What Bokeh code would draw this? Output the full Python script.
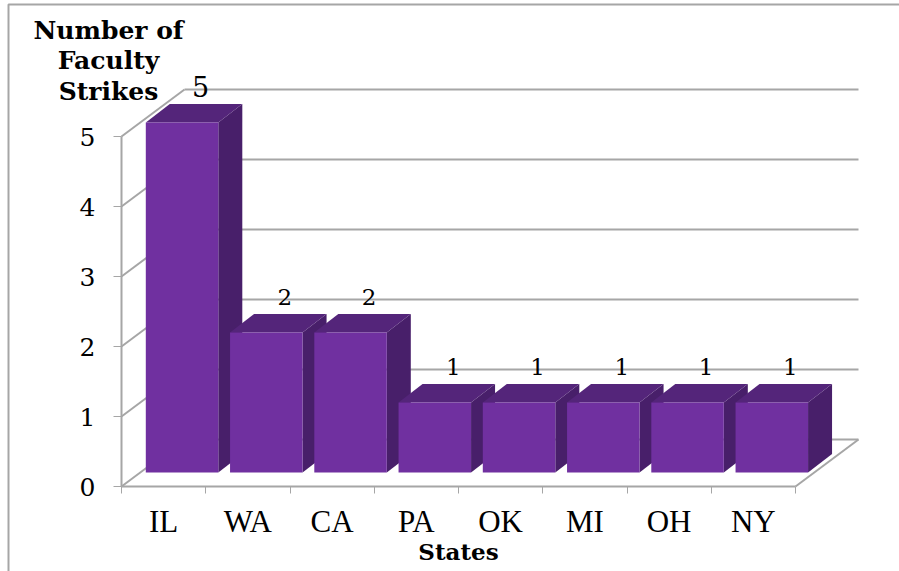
from bokeh.plotting import figure
from bokeh.models import ColumnDataSource, FixedTicker, Range1d, Label, BoxAnnotation, LinearAxis
from bokeh.core.properties import value
from bokeh.embed import file_html
from bokeh.resources import INLINE

# ---- data ----
states = ["IL", "WA", "CA", "PA", "OK", "MI", "OH", "NY"]
strikes = [5, 2, 2, 1, 1, 1, 1, 1]
y_ticks = [0, 1, 2, 3, 4, 5]

# ---- look ----
W, H = 899, 571
X0_PX, Y0_PX = 121, 486           # pixel position of the chart origin
UX, UY = 84.25, 70.0              # pixels per category / per strike
WALL_DX, WALL_DY = 63 / UX, 47 / UY
BAR_X0, BAR_W = 24.3 / UX, 72.5 / UX
BAR_Y0 = 14 / UY
FRONT_TO_BACK_DX, FRONT_TO_BACK_DY = 24 / UX, 18.5 / UY
GRID = "#a6a6a6"
FRONT, TOP, SIDE = "#7030a0", "#54257a", "#481f6a"
SERIF = "Liberation Serif"
DIGITS = "DejaVu Serif"

p = figure(frame_width=W, frame_height=H, output_backend="svg", toolbar_location=None,
           x_range=Range1d(-X0_PX / UX, (W - X0_PX) / UX),
           y_range=Range1d(-(H - Y0_PX) / UY, Y0_PX / UY),
           min_border=0, x_axis_type=None, y_axis_type=None, outline_line_color=None)
p.grid.visible = False

n = len(states)
# back-wall grid lines and side-wall diagonals
p.segment(x0=[WALL_DX] * len(y_ticks), x1=[n + WALL_DX] * len(y_ticks),
          y0=[t + WALL_DY for t in y_ticks], y1=[t + WALL_DY for t in y_ticks],
          line_color=GRID, line_width=2)
p.segment(x0=[0] * len(y_ticks), x1=[WALL_DX] * len(y_ticks),
          y0=y_ticks, y1=[t + WALL_DY for t in y_ticks], line_color=GRID, line_width=2)
p.segment(x0=[n], x1=[n + WALL_DX], y0=[0], y1=[WALL_DY], line_color=GRID, line_width=2)

# 3-D bars, drawn left to right so that later ones overlap earlier ones
for i, v in enumerate(strikes):
    xl = i + BAR_X0
    xr = xl + BAR_W
    yb, yt = BAR_Y0, BAR_Y0 + v
    dx, dy = FRONT_TO_BACK_DX, FRONT_TO_BACK_DY
    p.patch([xr, xr + dx, xr + dx, xr], [yb, yb + dy, yt + dy, yt], fill_color=SIDE, line_color=None)
    p.patch([xl, xl + dx, xr + dx, xr], [yt, yt + dy, yt + dy, yt], fill_color=TOP, line_color=None)
    p.quad(left=xl, right=xr, bottom=yb, top=yt, fill_color=FRONT, line_color=None)

# value labels
src = ColumnDataSource(dict(x=[i + 0.5 for i in range(n)], y=strikes, t=[str(v) for v in strikes],
                            s=["27px" if v > 2 else "23px" for v in strikes]))
p.text("x", "y", text="t", source=src, x_offset=37, y_offset=-50, text_align="center",
       text_baseline="middle", text_font=value(DIGITS), text_font_size="s", text_color="#000000")

# axes
ax = LinearAxis(fixed_location=0, bounds=(0, n),
                ticker=FixedTicker(ticks=[i + 0.5 for i in range(n)], minor_ticks=list(range(n + 1))),
                major_label_overrides={i + 0.5: s for i, s in enumerate(states)},
                major_label_text_font=SERIF, major_label_text_font_size="31px",
                major_label_text_color="#000000", major_label_standoff=10,
                axis_line_color=GRID, axis_line_width=2,
                major_tick_in=0, major_tick_out=0, minor_tick_in=0, minor_tick_out=7,
                minor_tick_line_color=GRID, minor_tick_line_width=1)
p.add_layout(ax, "below")

ay = LinearAxis(fixed_location=0, bounds=(0, 5), ticker=FixedTicker(ticks=y_ticks),
                major_label_text_font=DIGITS, major_label_text_font_size="25px",
                major_label_text_color="#000000", major_label_standoff=18,
                axis_line_color=GRID, axis_line_width=2,
                major_tick_in=0, major_tick_out=8, major_tick_line_color=GRID, major_tick_line_width=1,
                minor_tick_in=0, minor_tick_out=0)
p.add_layout(ay, "left")

# axis titles
p.add_layout(Label(x=108, y=15, x_units="canvas", y_units="canvas",
                   text="Number of\nFaculty\nStrikes", text_align="center", text_baseline="top",
                   text_font=DIGITS, text_font_style="bold", text_font_size="25px",
                   text_color="#000000", text_line_height=1.06))
p.add_layout(Label(x=n / 2, y=537, y_units="canvas", text="States", text_align="center", text_baseline="top",
                   text_font=DIGITS, text_font_style="bold", text_font_size="23px", text_color="#000000"))

# chart frame
p.add_layout(BoxAnnotation(left=8, right=W + 10, top=4, bottom=H + 10,
                           left_units="canvas", right_units="canvas", top_units="canvas", bottom_units="canvas",
                           fill_alpha=0, line_color=GRID, line_alpha=1, line_width=2))

open("out.html", "w").write(file_html(p, INLINE))
